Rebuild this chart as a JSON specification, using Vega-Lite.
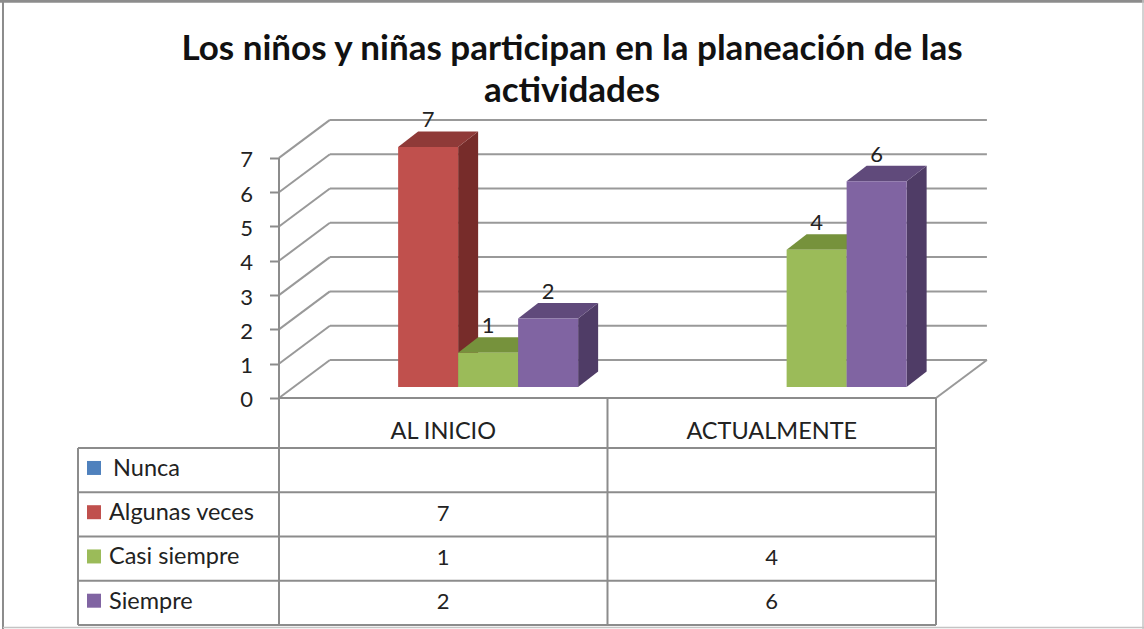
{
"$schema":"https://vega.github.io/schema/vega-lite/v6.json",
"width":1144,"height":629,"padding":0,"autosize":{"type":"none"},
"background":"white",
"view":{"stroke":null},
"title":{"text":["Los niños y niñas participan en la planeación de las","actividades"],"font":"Lato","fontSize":35,"fontWeight":"bold","color":"#111111","anchor":"middle","frame":"group","orient":"top","offset":-110,"lineHeight":42,"dx":0},
"data":{"values":[
{"periodo":"AL INICIO","serie":"Nunca","valor":null},
{"periodo":"AL INICIO","serie":"Algunas veces","valor":7},
{"periodo":"AL INICIO","serie":"Casi siempre","valor":1},
{"periodo":"AL INICIO","serie":"Siempre","valor":2},
{"periodo":"ACTUALMENTE","serie":"Nunca","valor":null},
{"periodo":"ACTUALMENTE","serie":"Algunas veces","valor":null},
{"periodo":"ACTUALMENTE","serie":"Casi siempre","valor":4},
{"periodo":"ACTUALMENTE","serie":"Siempre","valor":6}
]},
"transform":[
{"calculate":"indexof(['AL INICIO','ACTUALMENTE'],datum.periodo)","as":"pidx"},
{"calculate":"indexof(['Nunca','Algunas veces','Casi siempre','Siempre'],datum.serie)","as":"sidx"},
{"calculate":"datum.pidx+0.18+datum.sidx*0.18265","as":"xl"},
{"calculate":"datum.xl+0.18265","as":"xr"},
{"calculate":"0.3207","as":"base"},
{"calculate":"datum.base+datum.valor","as":"tope"},
{"calculate":"-2.04-1.29*datum.sidx","as":"fila"}
],
"resolve":{"scale":{"color":"independent"},"axis":{"y":"independent"}},
"layer":[
{"data":{"values":[{"t":0},{"t":1},{"t":2},{"t":3},{"t":4},{"t":5},{"t":6},{"t":7}]},
 "transform":[{"calculate":"datum.t+1.108","as":"tb"},{"calculate":"0","as":"x0"},{"calculate":"0.155","as":"x1"}],
 "mark":{"type":"rule","stroke":"#999999","strokeWidth":2},
 "encoding":{"x":{"field":"x0","type":"quantitative","scale":{"domain":[-0.8493,2.6332]},"axis":null},"x2":{"field":"x1"},
 "y":{"field":"t","type":"quantitative","scale":{"domain":[-6.735,11.603]},"axis":{"values":[0,1,2,3,4,5,6,7],"title":null,"grid":false,"domain":false,"offset":-278.5,"orient":"left","tickColor":"#8c8c8c","tickWidth":2,"tickSize":9,"labelFont":"Lato","labelFontSize":22,"labelColor":"#222222","labelPadding":17,"labelBaseline":"middle","labelOffset":2,"zindex":1}},"y2":{"field":"tb"}}},
{"data":{"values":[{"t":0},{"t":1},{"t":2},{"t":3},{"t":4},{"t":5},{"t":6},{"t":7}]},
 "transform":[{"calculate":"datum.t+1.108","as":"tb"},{"calculate":"0.155","as":"x1"},{"calculate":"2.155","as":"x2f"}],
 "mark":{"type":"rule","stroke":"#999999","strokeWidth":2},
 "encoding":{"x":{"field":"x1","type":"quantitative","scale":{"domain":[-0.8493,2.6332]},"axis":null},"x2":{"field":"x2f"},
 "y":{"field":"tb","type":"quantitative","scale":{"domain":[-6.735,11.603]},"axis":null}}},
{"data":{"values":[{"parte":"suelo"}]},
 "mark":{"type":"rule","stroke":"#999999","strokeWidth":2},
 "encoding":{"x":{"datum":2,"type":"quantitative","scale":{"domain":[-0.8493,2.6332]},"axis":null},"x2":{"datum":2.155},
 "y":{"datum":0,"type":"quantitative","scale":{"domain":[-6.735,11.603]},"axis":null},"y2":{"datum":1.108}}},
{"data":{"values":[{"parte":"eje"}]},
 "mark":{"type":"rule","stroke":"#8c8c8c","strokeWidth":2},
 "encoding":{"x":{"datum":0,"type":"quantitative","scale":{"domain":[-0.8493,2.6332]},"axis":null},
 "y":{"datum":0,"type":"quantitative","scale":{"domain":[-6.735,11.603]},"axis":null},"y2":{"datum":7}}},
{"transform":[{"filter":"isValid(datum.valor)"},{"calculate":"[0,1]","as":"p"},{"flatten":["p"]},
 {"calculate":"datum.xr+datum.p*0.0609","as":"xs"},{"calculate":"datum.tope+datum.p*0.452","as":"ya"},{"calculate":"datum.base+datum.p*0.452","as":"yb"},{"calculate":"datum.periodo+datum.serie","as":"clave"}],
 "mark":{"type":"area","orient":"vertical","opacity":1},
 "encoding":{"x":{"field":"xs","type":"quantitative","scale":{"domain":[-0.8493,2.6332]},"axis":null},
 "y":{"field":"ya","type":"quantitative","scale":{"domain":[-6.735,11.603]},"axis":null,"stack":null},"y2":{"field":"yb"},
 "detail":{"field":"clave"},
 "color":{"field":"serie","type":"nominal","legend":null,"scale":{"domain":["Nunca","Algunas veces","Casi siempre","Siempre"],"range":["#385D8A","#772C2A","#5F7530","#4F3C66"]}}}},
{"transform":[{"filter":"isValid(datum.valor)"},{"calculate":"[0,1]","as":"p"},{"flatten":["p"]},
 {"calculate":"datum.xl+datum.p*0.0609","as":"xa"},{"calculate":"datum.xr+datum.p*0.0609","as":"xb"},{"calculate":"datum.tope+datum.p*0.452","as":"yv"},{"calculate":"datum.periodo+datum.serie","as":"clave"}],
 "mark":{"type":"area","orient":"horizontal","opacity":1},
 "encoding":{"y":{"field":"yv","type":"quantitative","scale":{"domain":[-6.735,11.603]},"axis":null},
 "x":{"field":"xa","type":"quantitative","scale":{"domain":[-0.8493,2.6332]},"axis":null,"stack":null},"x2":{"field":"xb"},
 "detail":{"field":"clave"},
 "color":{"field":"serie","type":"nominal","legend":null,"scale":{"domain":["Nunca","Algunas veces","Casi siempre","Siempre"],"range":["#4A6F9E","#8F3A38","#76923C","#604A7B"]}}}},
{"transform":[{"filter":"isValid(datum.valor)"}],
 "mark":{"type":"rect"},
 "encoding":{"x":{"field":"xl","type":"quantitative","scale":{"domain":[-0.8493,2.6332]},"axis":null},"x2":{"field":"xr"},
 "y":{"field":"base","type":"quantitative","scale":{"domain":[-6.735,11.603]},"axis":null},"y2":{"field":"tope"},
 "color":{"field":"serie","type":"nominal","legend":null,"scale":{"domain":["Nunca","Algunas veces","Casi siempre","Siempre"],"range":["#4F81BD","#C0504D","#9BBB59","#8064A2"]}}}},
{"transform":[{"filter":"isValid(datum.valor)"},{"calculate":"(datum.xl+datum.xr)/2","as":"xm"},{"calculate":"datum.tope+0.77","as":"ye"}],
 "mark":{"type":"text","font":"Lato","fontSize":22,"color":"#222222","baseline":"middle","align":"center"},
 "encoding":{"x":{"field":"xm","type":"quantitative","scale":{"domain":[-0.8493,2.6332]},"axis":null},
 "y":{"field":"ye","type":"quantitative","scale":{"domain":[-6.735,11.603]},"axis":null},"text":{"field":"valor","type":"quantitative"}}},
{"data":{"values":[{"i":0},{"i":1},{"i":2},{"i":3},{"i":4}]},
 "transform":[{"calculate":"-1.458-1.29*datum.i","as":"yl"},{"calculate":"-0.6119","as":"xa"},{"calculate":"2","as":"xb"}],
 "mark":{"type":"rule","stroke":"#8c8c8c","strokeWidth":2},
 "encoding":{"x":{"field":"xa","type":"quantitative","scale":{"domain":[-0.8493,2.6332]},"axis":null},"x2":{"field":"xb"},
 "y":{"field":"yl","type":"quantitative","scale":{"domain":[-6.735,11.603]},"axis":null}}},
{"data":{"values":[{"c":0},{"c":1},{"c":2}]},
 "transform":[{"calculate":"0","as":"ya"},{"calculate":"-6.618","as":"yb"}],
 "mark":{"type":"rule","stroke":"#8c8c8c","strokeWidth":2},
 "encoding":{"x":{"field":"c","type":"quantitative","scale":{"domain":[-0.8493,2.6332]},"axis":null},
 "y":{"field":"ya","type":"quantitative","scale":{"domain":[-6.735,11.603]},"axis":null},"y2":{"field":"yb"}}},
{"data":{"values":[{"parte":"tabla"}]},
 "mark":{"type":"rule","stroke":"#8c8c8c","strokeWidth":2},
 "encoding":{"x":{"datum":0,"type":"quantitative","scale":{"domain":[-0.8493,2.6332]},"axis":null},"x2":{"datum":2},
 "y":{"datum":0,"type":"quantitative","scale":{"domain":[-6.735,11.603]},"axis":null}}},
{"data":{"values":[{"parte":"tabla"}]},
 "mark":{"type":"rule","stroke":"#8c8c8c","strokeWidth":2},
 "encoding":{"x":{"datum":-0.6119,"type":"quantitative","scale":{"domain":[-0.8493,2.6332]},"axis":null},
 "y":{"datum":-1.458,"type":"quantitative","scale":{"domain":[-6.735,11.603]},"axis":null},"y2":{"datum":-6.618}}},
{"transform":[{"filter":"datum.sidx==0"},{"calculate":"datum.pidx+0.5","as":"xc"},{"calculate":"-0.99","as":"yc"}],
 "mark":{"type":"text","font":"Lato","fontSize":23.5,"color":"#222222","baseline":"middle","align":"center"},
 "encoding":{"x":{"field":"xc","type":"quantitative","scale":{"domain":[-0.8493,2.6332]},"axis":null},
 "y":{"field":"yc","type":"quantitative","scale":{"domain":[-6.735,11.603]},"axis":null},"text":{"field":"periodo"}}},
{"transform":[{"filter":"datum.pidx==0"},{"calculate":"-0.5632","as":"xc"}],
 "mark":{"type":"point","shape":"square","filled":true,"size":196,"opacity":1},
 "encoding":{"x":{"field":"xc","type":"quantitative","scale":{"domain":[-0.8493,2.6332]},"axis":null},
 "y":{"field":"fila","type":"quantitative","scale":{"domain":[-6.735,11.603]},"axis":null},
 "color":{"field":"serie","type":"nominal","legend":null,"scale":{"domain":["Nunca","Algunas veces","Casi siempre","Siempre"],"range":["#4F81BD","#C0504D","#9BBB59","#8064A2"]}}}},
{"transform":[{"filter":"datum.pidx==0"},{"calculate":"datum.sidx==0?-0.505:-0.5175","as":"xc"},{"calculate":"datum.fila-0.03","as":"yc"}],
 "mark":{"type":"text","font":"Lato","fontSize":23.5,"color":"#222222","baseline":"middle","align":"left"},
 "encoding":{"x":{"field":"xc","type":"quantitative","scale":{"domain":[-0.8493,2.6332]},"axis":null},
 "y":{"field":"yc","type":"quantitative","scale":{"domain":[-6.735,11.603]},"axis":null},"text":{"field":"serie"}}},
{"transform":[{"filter":"isValid(datum.valor)"},{"calculate":"datum.pidx+0.5","as":"xc"},{"calculate":"datum.fila-0.05","as":"yc"}],
 "mark":{"type":"text","font":"Lato","fontSize":22,"color":"#222222","baseline":"middle","align":"center"},
 "encoding":{"x":{"field":"xc","type":"quantitative","scale":{"domain":[-0.8493,2.6332]},"axis":null},
 "y":{"field":"yc","type":"quantitative","scale":{"domain":[-6.735,11.603]},"axis":null},"text":{"field":"valor","type":"quantitative"}}},
{"data":{"values":[{"parte":"marco"}]},
 "mark":{"type":"rule","stroke":"#8c8c8c","strokeWidth":2},
 "encoding":{"x":{"datum":-0.8402,"type":"quantitative","scale":{"domain":[-0.8493,2.6332]},"axis":null},
 "y":{"datum":-6.735,"type":"quantitative","scale":{"domain":[-6.735,11.603]},"axis":null},"y2":{"datum":11.603}}},
{"data":{"values":[{"parte":"marco"}]},
 "mark":{"type":"rule","stroke":"#8c8c8c","strokeWidth":3},
 "encoding":{"x":{"datum":-0.8493,"type":"quantitative","scale":{"domain":[-0.8493,2.6332]},"axis":null},"x2":{"datum":2.6332},
 "y":{"datum":11.57,"type":"quantitative","scale":{"domain":[-6.735,11.603]},"axis":null}}},
{"data":{"values":[{"parte":"marco"}]},
 "mark":{"type":"rule","stroke":"#c4c4c4","strokeWidth":1.5},
 "encoding":{"x":{"datum":2.6302,"type":"quantitative","scale":{"domain":[-0.8493,2.6332]},"axis":null},
 "y":{"datum":-6.735,"type":"quantitative","scale":{"domain":[-6.735,11.603]},"axis":null},"y2":{"datum":11.603}}},
{"data":{"values":[{"parte":"marco"}]},
 "mark":{"type":"rule","stroke":"#c4c4c4","strokeWidth":1.5},
 "encoding":{"x":{"datum":-0.8402,"type":"quantitative","scale":{"domain":[-0.8493,2.6332]},"axis":null},"x2":{"datum":2.6332},
 "y":{"datum":-6.69,"type":"quantitative","scale":{"domain":[-6.735,11.603]},"axis":null}}}
]
}
